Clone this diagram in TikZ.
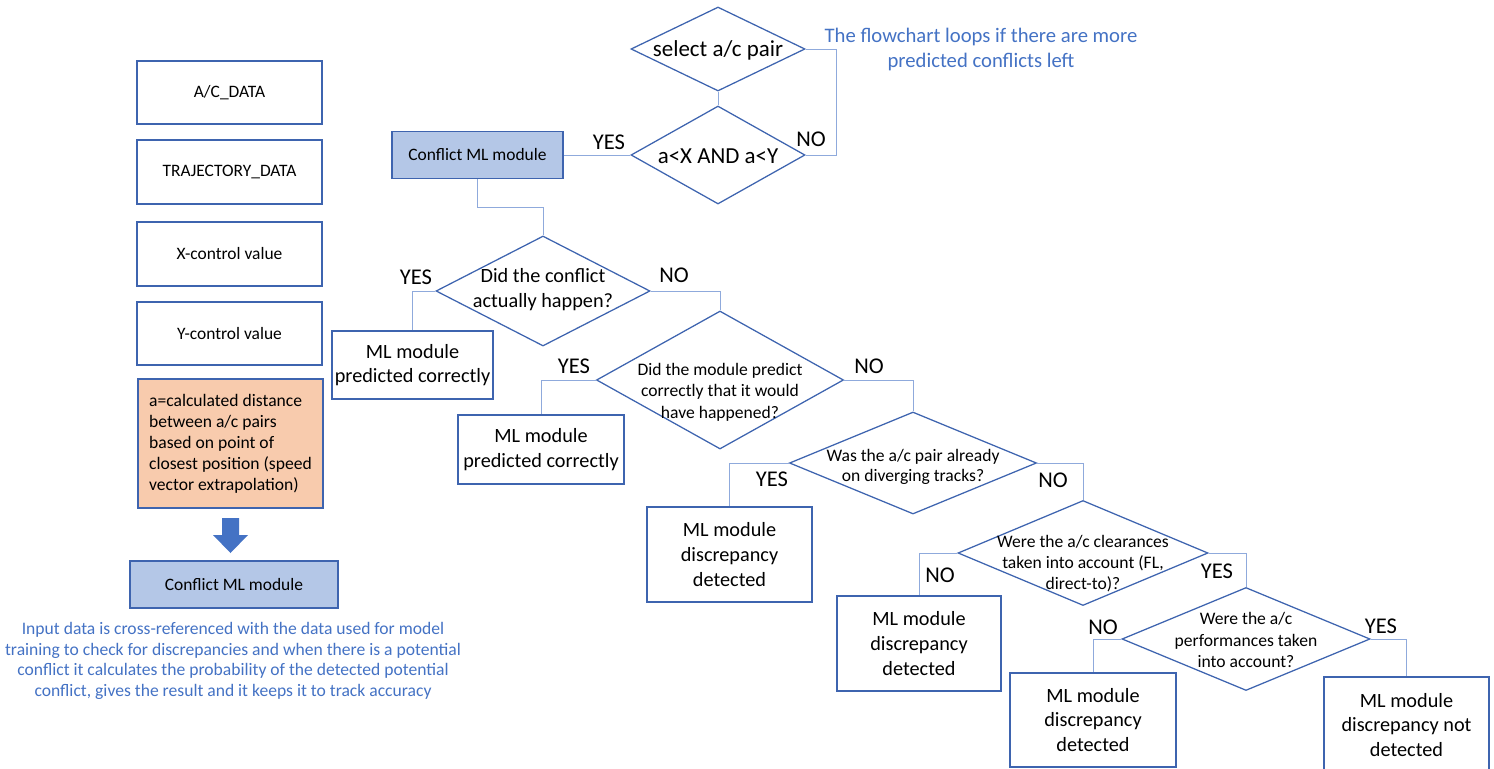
\documentclass[tikz,border=0pt]{standalone}
\usepackage{fontspec}
\setmainfont{Carlito}
\usepackage{tikz}
\usetikzlibrary{shapes.geometric}
\definecolor{shapeline}{RGB}{62, 100, 175}
\definecolor{linkline}{RGB}{143, 170, 220}
\definecolor{noteblue}{RGB}{68, 114, 196}
\definecolor{modfill}{RGB}{180, 199, 231}
\definecolor{calcfill}{RGB}{248, 203, 173}
\newcommand{\fsz}[2]{\fontsize{#1}{#2}\selectfont}

\begin{document}
\begin{tikzpicture}[x=0.025cm, y=-0.025cm,
		box/.style={draw=shapeline, line width=0.9pt, align=center, inner sep=0pt},
		dia/.style={draw=shapeline, line width=0.9pt, diamond, inner sep=0pt},
		link/.style={draw=linkline, line width=0.7pt},
		yn/.style={font=\fsz{16}{19}},
		restxt/.style={font=\fsz{14.4}{17.5}}]
			\useasboundingbox (0,0) rectangle (1494,769);
			
			% input data column
			\node[box, minimum width=4.625cm, minimum height=1.575cm, font=\fsz{12.4}{14}] (acdata) at (229.5,92.5) {A/C\_DATA};
			\node[box, minimum width=4.625cm, minimum height=1.6cm, font=\fsz{12.4}{14}] (trajdata) at (229.5,172) {TRAJECTORY\_DATA};
			\node[box, minimum width=4.625cm, minimum height=1.6cm, font=\fsz{12.4}{14}] (xctrl) at (229.5,254) {X-control value};
			\node[box, minimum width=4.625cm, minimum height=1.575cm, font=\fsz{12.4}{14}] (yctrl) at (229.5,333.5) {Y-control value};
			\node[box, fill=calcfill, minimum width=4.625cm, minimum height=3.225cm, align=left, font=\fsz{12.5}{15}] (distbox) at (230.5,443.5)
				{a=calculated distance\\between a/c pairs\\based on point of\\closest position (speed\\vector extrapolation)};
			\fill[noteblue] (222,518) -- (239,518) -- (239,535) -- (248,535) -- (230.5,553) -- (213,535) -- (222,535) -- cycle;
			\node[box, fill=modfill, minimum width=5.2cm, minimum height=1.175cm, font=\fsz{12.4}{14}] (mlleft) at (234,584.5) {Conflict ML module};
			\node[text=noteblue, align=center, font=\fsz{12.5}{14.7}] (mlnote) at (233,661)
				{Input data is cross-referenced with the data used for model\\training to check for discrepancies and when there is a potential\\conflict it calculates the probability of the detected potential\\conflict, gives the result and it keeps it to track accuracy};
			
			% decisions
			\node[dia, minimum width=4.35cm, minimum height=2.1cm] (sel) at (718,49) {};
			\node[dia, minimum width=4.35cm, minimum height=2.45cm] (cond) at (718,155) {};
			\node[dia, minimum width=5.35cm, minimum height=2.75cm] (dhap) at (543,291) {};
			\node[dia, minimum width=6.175cm, minimum height=3.45cm] (dpred) at (720,380) {};
			\node[dia, minimum width=6.175cm, minimum height=2.55cm] (ddiv) at (913,463) {};
			\node[dia, minimum width=6.25cm, minimum height=2.625cm] (dclr) at (1083,553) {};
			\node[dia, minimum width=6.2cm, minimum height=2.575cm] (dperf) at (1246,639) {};
			
			\node[font=\fsz{16.3}{18}] (selT) at (718,50) {select a/c pair};
			\node[font=\fsz{16.3}{18}] (condT) at (718,156) {a<X AND a<Y};
			\node[align=center, font=\fsz{14.4}{17.8}] (dhapT) at (543,290) {Did the conflict\\actually happen?};
			\node[align=center, font=\fsz{12.5}{15.3}] (dpredT) at (720,392) {Did the module predict\\correctly that it would\\have happened?};
			\node[align=center, font=\fsz{12.5}{14.3}] (ddivT) at (913,467) {Was the a/c pair already\\on diverging tracks?};
			\node[align=center, font=\fsz{12.5}{15}] (dclrT) at (1083,564) {Were the a/c clearances\\taken into account (FL,\\direct-to)?};
			\node[align=center, font=\fsz{12.5}{15.3}] (dperfT) at (1246,640) {Were the a/c\\performances taken\\into account?};
			
			\node[text=noteblue, align=center, font=\fsz{14.7}{17.8}] (loopnote) at (981,49.5) {The flowchart loops if there are more\\predicted conflicts left};
			
			% module and outcomes
			\node[box, fill=modfill, minimum width=4.275cm, minimum height=1.175cm, font=\fsz{12.4}{14}] (mltop) at (477.5,155) {Conflict ML module};
			\node[box, minimum width=4.025cm, minimum height=1.7cm, restxt] (ok1) at (412.5,365) {ML module\\predicted correctly};
			\node[box, minimum width=4.15cm, minimum height=1.725cm, restxt] (ok2) at (541,449.5) {ML module\\predicted correctly};
			\node[box, minimum width=4.125cm, minimum height=2.375cm, restxt] (disc1) at (729.5,554.5) {ML module\\discrepancy\\detected};
			\node[box, minimum width=4.1cm, minimum height=2.375cm, restxt] (disc2) at (919,643.5) {ML module\\discrepancy\\detected};
			\node[box, minimum width=4.15cm, minimum height=2.35cm, restxt] (disc3) at (1093,720) {ML module\\discrepancy\\detected};
			\node[box, minimum width=4.125cm, minimum height=2.4cm, restxt] (nodisc) at (1406.5,725) {ML module\\discrepancy not\\detected};
			
			% connectors
			\coordinate (loopx) at (836,0);
			\coordinate (jog) at (0,207);
			\draw[link] (sel.south) -- (cond.north);
			\draw[link] (cond.east) -| (loopx |- sel.east) -- (sel.east);
			\draw[link] (cond.west) -- (mltop.east);
			\draw[link] (mltop.south) -- (mltop.south |- jog) -| (dhap.north);
			\draw[link] (dhap.west) -| (ok1.north);
			\draw[link] (dhap.east) -| (dpred.north);
			\draw[link] (dpred.west) -| (ok2.north);
			\draw[link] (dpred.east) -| (ddiv.north);
			\draw[link] (ddiv.west) -| (disc1.north);
			\draw[link] (ddiv.east) -| (dclr.north);
			\draw[link] (dclr.west) -| (disc2.north);
			\draw[link] (dclr.east) -| (dperf.north);
			\draw[link] (dperf.west) -| (disc3.north);
			\draw[link] (dperf.east) -| (nodisc.north);
			
			% branch labels
			\node[yn] (condY) at (609,142) {YES};
			\node[yn] (condN) at (811,139) {NO};
			\node[yn] (dhapY) at (416,277) {YES};
			\node[yn] (dhapN) at (674,275) {NO};
			\node[yn] (dpredY) at (574,366) {YES};
			\node[yn] (dpredN) at (869,366) {NO};
			\node[yn] (ddivY) at (772,479) {YES};
			\node[yn] (ddivN) at (1053,480) {NO};
			\node[yn] (dclrN) at (940,575) {NO};
			\node[yn] (dclrY) at (1217,571) {YES};
			\node[yn] (dperfN) at (1103,627) {NO};
			\node[yn] (dperfY) at (1381,626) {YES};
			
		\end{tikzpicture}
\end{document}
